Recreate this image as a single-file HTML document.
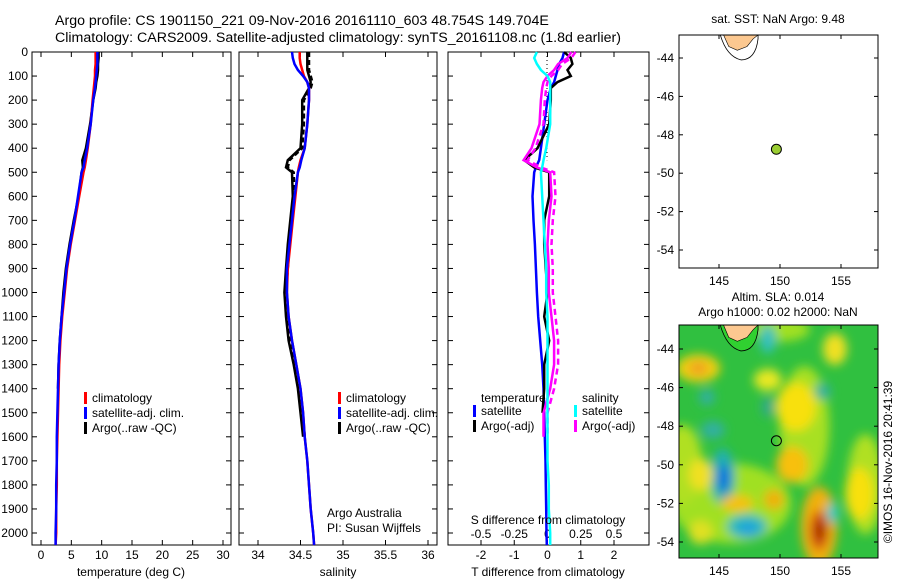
<!DOCTYPE html>
<html><head><meta charset="utf-8"><style>
body{margin:0;background:#fff;}
svg{display:block;font-family:"Liberation Sans",sans-serif;}
text{font-size:12px;fill:#000;}
</style></head><body>
<svg id="c" width="900" height="580" xmlns="http://www.w3.org/2000/svg">
<defs>
<filter id="bl" x="-50%" y="-50%" width="200%" height="200%"><feGaussianBlur stdDeviation="5"/></filter>
<clipPath id="m2clip"><rect x="679" y="325" width="199" height="233"/></clipPath>
<clipPath id="m1clip"><rect x="679" y="35" width="199" height="233"/></clipPath>
</defs>
<text x="55" y="25" style="font-size:14.2px">Argo profile: CS 1901150_221 09-Nov-2016 20161110_603 48.754S 149.704E</text>
<text x="55" y="42" style="font-size:14.2px">Climatology: CARS2009. Satellite-adjusted climatology: synTS_20161108.nc (1.8d earlier)</text>
<g id="g"></g>
</svg>
<script>
// shared depths (m)
const depths=[0,25,50,75,100,125,150,200,300,400,450,480,500,600,700,800,900,1000,1100,1200,1300,1400,1500,1600,1700,1800,1900,2000,2050];
const tempClim=[9.0,9.0,9.0,8.9,8.9,8.8,8.7,8.5,8.2,7.7,7.4,7.2,7.0,6.3,5.6,4.9,4.3,3.9,3.5,3.2,3.0,2.9,2.8,2.7,2.6,2.6,2.5,2.5,2.4];
const tempSat=[9.3,9.3,9.3,9.2,9.1,9.0,8.9,8.6,8.2,7.6,7.2,7.0,6.7,6.1,5.5,4.8,4.2,3.8,3.4,3.1,2.9,2.8,2.7,2.6,2.6,2.5,2.5,2.4,2.4];
const tempArgo=[9.5,9.5,9.4,9.4,9.3,9.1,9.0,8.6,8.1,7.4,6.8,6.9,6.7,6.2,5.4,4.7,4.1,3.7,3.4,3.1,2.9,2.8,null,null,null,null,null,null,null];
const salClim=[34.49,34.49,34.5,34.52,34.54,34.58,34.6,34.6,34.58,34.55,34.5,34.48,34.47,34.44,34.41,34.38,34.35,34.34,34.36,34.4,34.45,34.5,34.53,34.55,34.58,34.6,34.62,34.65,34.66];
const salSat=[34.4,34.41,34.43,34.47,34.53,34.58,34.6,34.6,34.58,34.55,34.51,34.49,34.47,34.43,34.4,34.37,34.34,34.34,34.36,34.4,34.45,34.5,34.53,34.55,34.58,34.6,34.62,34.65,34.66];
const salArgo=[34.58,34.58,34.58,34.58,34.6,34.62,34.6,34.52,34.52,34.5,34.35,34.33,34.4,34.41,34.38,34.35,34.33,34.31,34.33,34.36,34.42,34.47,34.5,34.53,null,null,null,null,null];
const dTSat=[0.5,0.45,0.35,0.3,0.25,0.2,0.1,0,-0.1,-0.2,-0.25,-0.35,-0.4,-0.45,-0.42,-0.38,-0.35,-0.32,-0.28,-0.22,-0.16,-0.12,-0.1,-0.08,-0.06,-0.05,-0.04,-0.03,-0.02];
const dTArgo=[0.5,0.7,0.75,0.6,0.7,0.3,0.1,0.1,0.05,-0.3,-0.7,-0.4,0.05,0.05,-0.1,-0.1,-0.05,0.0,-0.1,0.05,-0.1,-0.1,-0.15,null,null,null,null,null,null];
const dSSat=[-0.08,-0.1,-0.08,-0.05,0.0,0.02,0.02,0.02,0.02,-0.01,-0.03,-0.04,-0.05,-0.04,-0.03,-0.02,-0.01,-0.01,0,0,0,0,0,0,0,0.01,0.01,0.02,0.02];
const dSArgo=[0.18,0.15,0.08,0.05,0.0,-0.03,-0.04,-0.05,-0.06,-0.12,-0.18,-0.08,0.02,0.03,0.01,0.0,0.01,0.01,0.03,0.05,0.05,0.02,-0.03,-0.03,null,null,null,null,null];
const yTicks=[0,100,200,300,400,500,600,700,800,900,1000,1100,1200,1300,1400,1500,1600,1700,1800,1900,2000];
const tTicks=[0,5,10,15,20,25,30];
const sTicks=[34,34.5,35,35.5,36];
const dTTicks=[-2,-1,0,1,2];
const dSTicks=[-0.5,-0.25,0,0.25,0.5];
const lonTicks=[145,150,155];
const latTicks=[-44,-46,-48,-50,-52,-54];
const argoLon=149.704, argoLat=-48.754;

const NS='http://www.w3.org/2000/svg';
const G=document.getElementById('g');
function el(t,a,p){const e=document.createElementNS(NS,t);for(const k in a)e.setAttribute(k,a[k]);(p||G).appendChild(e);return e;}
function txt(x,y,s,anchor,extra){const e=el('text',Object.assign({x:x,y:y,'text-anchor':anchor||'start'},extra||{}));e.textContent=s;return e;}
const TOP=52,BOT=545;
const yD=d=>TOP+d*0.2405;
function lin(d0,p0,d1,p1){return v=>p0+(v-d0)*(p1-p0)/(d1-d0);}
const xT=lin(0,41,30,223), xS=lin(34,258,36,428), xdT=lin(0,547.5,2,614), xdS=lin(0,547.5,0.5,614);

function panel(x0,x1,name){
  const r=el('rect',{x:x0,y:TOP,width:x1-x0,height:BOT-TOP,fill:'none',stroke:'#000'});
  
  yTicks.forEach(d=>{const y=yD(d);el('line',{x1:x0,x2:x0+5,y1:y,y2:y,stroke:'#000'});el('line',{x1:x1,x2:x1-5,y1:y,y2:y,stroke:'#000'});});
}
function xticks(ticks,f,x0,x1,ly,withLabels){ticks.forEach(v=>{const x=f(v);el('line',{x1:x,x2:x,y1:TOP,y2:TOP+5,stroke:'#000'});el('line',{x1:x,x2:x,y1:BOT,y2:BOT-5,stroke:'#000'});if(withLabels){const t=txt(x,ly,String(v),'middle');}});}
function series(vals,f,color,name,dash){let d='';let pen=false;vals.forEach((v,i)=>{if(v===null){pen=false;return;}d+=(pen?'L':'M')+f(v).toFixed(1)+','+yD(depths[i]).toFixed(1);pen=true;});
  const p=el('path',{d:d,fill:'none',stroke:color,'stroke-width':2.5,'stroke-dasharray':dash||'none'});}
function legend(x,y,items){items.forEach((it,i)=>{const yy=y+i*15;el('rect',{x:x,y:yy-10,width:3,height:12,fill:it[1]});const t=txt(x+8,yy,it[0]);});}

yTicks.forEach(d=>{const t=txt(28,yD(d)+4,String(d),'end');});

// panel 1
panel(32,231,'temperature-panel');
xticks(tTicks,xT,32,231,559,true);
series(tempArgo,v=>xT(v),'#000','argo-temperature');
series(tempClim,xT,'#f00','climatology-temperature');
series(tempSat,xT,'#00f','satellite-temperature');
legend(84,402,[['climatology','#f00'],['satellite-adj. clim.','#00f'],['Argo(..raw -QC)','#000']]);
let t=txt(131,576,'temperature (deg C)','middle');

// panel 2
panel(239,437,'salinity-panel');
xticks(sTicks,xS,239,437,559,true);
series(salArgo,xS,'#000','argo-salinity');
series(salArgo.map(v=>v===null?null:v+0.02),xS,'#000','argo-salinity-raw','5,3');
series(salClim,xS,'#f00','climatology-salinity');
series(salSat,xS,'#00f','satellite-salinity');
legend(338,402,[['climatology','#f00'],['satellite-adj. clim.','#00f'],['Argo(..raw -QC)','#000']]);
t=txt(327,517,'Argo Australia');
t=txt(327,532,'PI: Susan Wijffels');
t=txt(338,576,'salinity','middle');

// panel 3
panel(448,649,'difference-panel');
xticks(dTTicks,xdT,448,649,559,true);
dSTicks.forEach(v=>{const t=txt(xdS(v),538,String(v),'middle');});
el('line',{x1:547,x2:547,y1:TOP,y2:yD(450),stroke:'#000','stroke-dasharray':'1,3'});
series(dTSat,xdT,'#00f','satellite-t-diff');
series(dTArgo,xdT,'#000','argo-t-diff');
series(dSArgo,xdS,'#f0f','argo-s-diff');
series(dSArgo.map(v=>v===null?null:v+0.03),xdS,'#f0f','argo-s-diff-raw','6,4');
series(dSSat,xdS,'#0ff','satellite-s-diff');
txt(481,402,'temperature');txt(582,402,'salinity');
legend(473,415,[['satellite','#00f'],['Argo(-adj)','#000']]);
legend(574,415,[['satellite','#0ff'],['Argo(-adj)','#f0f']]);
t=txt(548,524,'S difference from climatology','middle');
t=txt(548,576,'T difference from climatology','middle');

// maps
const mx=lin(145,719,155,841);
function map(top,latY,name,clip,heat){
  const g=el('g',{});
  if(heat){
    el('rect',{x:679,y:top,width:199,height:233,fill:'#30c040'},g);
    const hg=el('g',{'clip-path':'url(#'+clip+')',filter:'url(#bl)'},g);
    const blobs=[
      [146,-52,60,40,'#a0e020'],[152,-48,25,60,'#a8e020'],[142,-50,20,40,'#b0e020'],[157,-51,18,50,'#b0e020'],[150,-43,30,12,'#a0e020'],
      [143.3,-45,22,14,'#f0d010'],[143.3,-45,10,7,'#f0a020'],[149,-45.6,14,11,'#e8e820'],[151.3,-47,20,24,'#f8e010'],[151,-50,16,18,'#f8c010'],
      [153.2,-53.2,18,40,'#f0b010'],[153.2,-53.4,9,20,'#d05010'],[153.3,-53.4,5,10,'#a02000'],
      [145.3,-50.6,12,28,'#20b0b0'],[145.4,-50.7,6,14,'#1070e0'],[147.3,-53.2,20,12,'#20b8c0'],[147.4,-53.3,9,6,'#20a0e0'],
      [146.5,-52,16,8,'#f8c010'],[149.5,-51.8,10,10,'#f0b010'],[143.5,-50.5,12,16,'#f0e020'],[156.5,-51.5,14,26,'#f8e010'],
      [149,-43.5,8,14,'#30c0c0'],[144,-46.5,8,8,'#30b0a0'],[144.5,-48.2,12,9,'#30b0a0'],[154.3,-52.5,6,10,'#40c8c8'],[154.5,-44,12,16,'#f0e020'],
      [143.5,-53.5,12,12,'#e0e020'],[153.5,-46.2,8,8,'#30b0a0'],[149,-47,6,10,'#30a890']];
    blobs.forEach(b=>el('ellipse',{cx:mx(b[0]),cy:latY(b[1]),rx:b[2],ry:b[3],fill:b[4]},hg));
  }
  const cg=el('g',{'clip-path':'url(#'+clip+')'},g);
  el('path',{d:`M${mx(145)},${top-5} Q${mx(145.5)},${latY(-43.9)} ${mx(146.8)},${latY(-44.1)} Q${mx(148)},${latY(-44.1)} ${mx(148.2)},${latY(-43)} L${mx(148.2)},${top-5}Z`,fill:heat?'#30d030':'#fff',stroke:'#000','stroke-width':0.8},cg);
  el('path',{d:`M${mx(145.3)},${top-2} L${mx(145.8)},${latY(-43.4)} L${mx(146.5)},${latY(-43.6)} L${mx(147.3)},${latY(-43.4)} L${mx(147.8)},${latY(-43)} L${mx(148.2)},${top}Z`,fill:'#fcc890',stroke:'#000','stroke-width':0.6},cg);
  el('rect',{x:679,y:top,width:199,height:233,fill:'none',stroke:'#000'},g);
  lonTicks.forEach(v=>{const x=mx(v);el('line',{x1:x,x2:x,y1:top,y2:top+4,stroke:'#000'},g);el('line',{x1:x,x2:x,y1:top+233,y2:top+229,stroke:'#000'},g);txt(x,top+250,String(v),'middle');});
  latTicks.forEach(v=>{const y=latY(v);el('line',{x1:679,x2:683,y1:y,y2:y,stroke:'#000'},g);el('line',{x1:878,x2:874,y1:y,y2:y,stroke:'#000'},g);txt(674,y+4,String(v),'end');});
  const c=el('circle',{cx:mx(argoLon),cy:latY(argoLat),r:5,fill:heat?'none':'#9acd32',stroke:'#000'},g);
  
}
map(35,lin(-44,58,-54,250),'sst-map','m1clip',false);
map(325,lin(-44,349,-54,542),'sla-map','m2clip',true);
t=txt(778,23,'sat. SST: NaN Argo: 9.48','middle');
t=txt(778,301,'Altim. SLA: 0.014','middle');
t=txt(778,316,'Argo h1000: 0.02 h2000: NaN','middle');
t=txt(0,0,'©IMOS 16-Nov-2016 20:41:39','middle',{transform:'translate(892,462) rotate(-90)'});
</script>
</body></html>
